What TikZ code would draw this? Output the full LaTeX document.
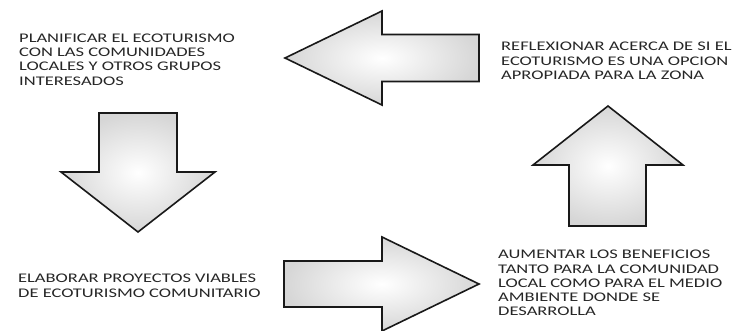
\documentclass[tikz,border=0pt]{standalone}
\usepackage{fontspec}
\setmainfont[FakeStretch=1.4]{Carlito}
\begin{document}
\begin{tikzpicture}[x=1pt,y=-1pt,
  bigarrow/.style={draw=black!90, line width=1.6pt, line join=miter,
    inner color=white, outer color=black!16},
  label/.style={anchor=north west, inner sep=0pt, align=left, text=black!85,
    font=\fontsize{13.2}{14.3}\selectfont}]
\useasboundingbox (0,0) rectangle (737,330);
% arrows
\coordinate (la) at (285,58);
\shadedraw[bigarrow] (la) -- (382,11) -- (382,34.5) -- (479,34.5) -- (479,81.5) -- (382,81.5) -- (382,105) -- cycle;
\coordinate (da) at (138,232);
\shadedraw[bigarrow] (99,113) -- (177,113) -- (177,172) -- (215,172) -- (da) -- (61,172) -- (99,172) -- cycle;
\coordinate (ra) at (479,284);
\shadedraw[bigarrow] (284,261) -- (382,261) -- (382,237) -- (ra) -- (382,331) -- (382,307) -- (284,307) -- cycle;
\coordinate (ua) at (608,106);
\shadedraw[bigarrow] (ua) -- (683,165) -- (646,165) -- (646,226) -- (569,226) -- (569,165) -- (533,165) -- cycle;
% texts
\node[label] (t1) at (19,33.5) {PLANIFICAR EL ECOTURISMO\\CON LAS COMUNIDADES\\LOCALES Y OTROS GRUPOS\\INTERESADOS};
\node[label] (t2) at (501,42) {REFLEXIONAR ACERCA DE SI EL\\ECOTURISMO ES UNA OPCION\\APROPIADA PARA LA ZONA};
\node[label] (t3) at (498,250) {AUMENTAR LOS BENEFICIOS\\TANTO PARA LA COMUNIDAD\\LOCAL COMO PARA EL MEDIO\\AMBIENTE DONDE SE\\DESARROLLA};
\node[label] (t4) at (18,274) {ELABORAR PROYECTOS VIABLES\\DE ECOTURISMO COMUNITARIO};
\end{tikzpicture}
\end{document}
